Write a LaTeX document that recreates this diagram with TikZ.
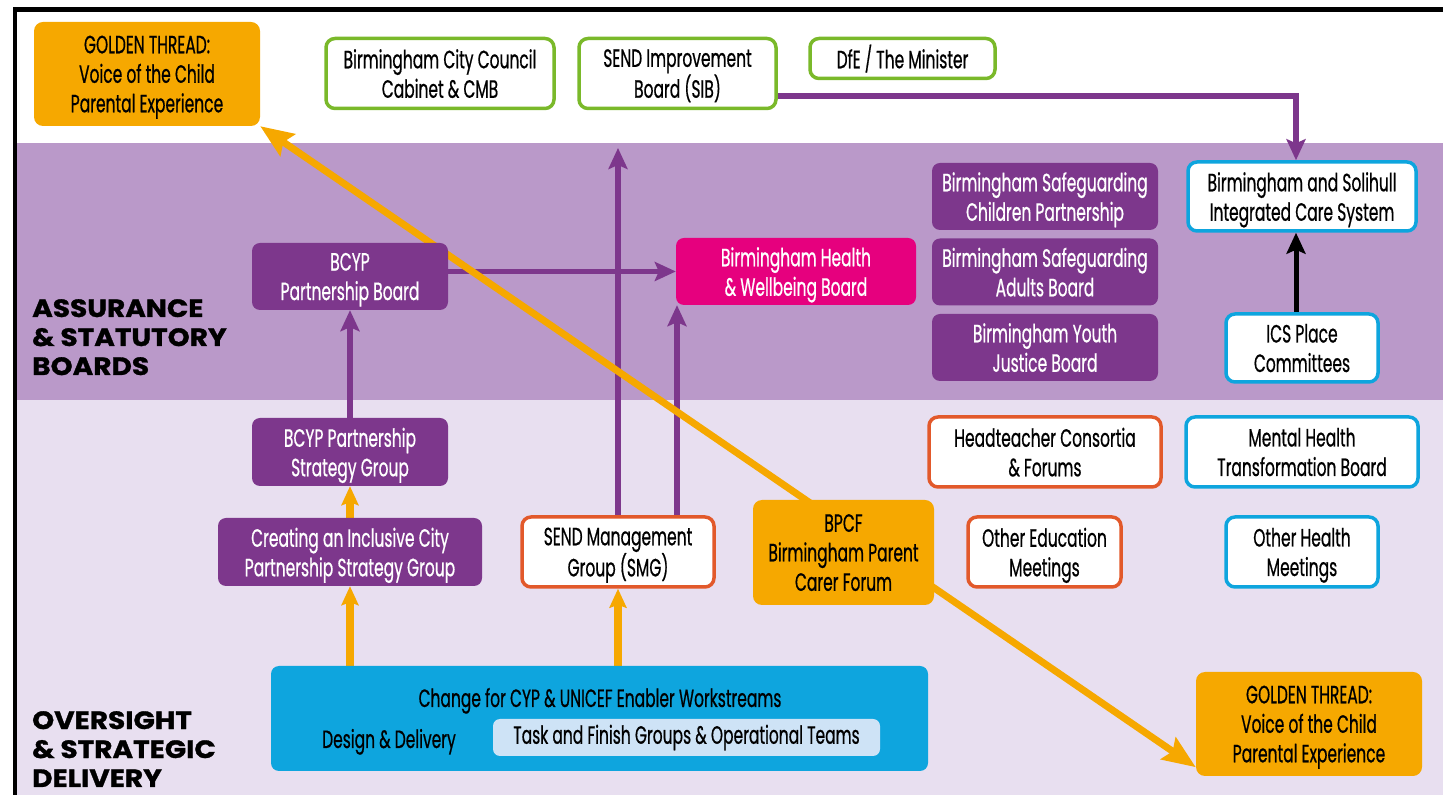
\documentclass[tikz,border=0pt]{standalone}
\usepackage{fontspec}
\setmainfont{Poppins}[FakeStretch=0.62,FakeBold=0.6]
\newfontfamily\headfont{Poppins}[FakeStretch=1.12,BoldFeatures={FakeBold=1.2}]
\usepackage{tikz}
\usetikzlibrary{arrows.meta,positioning,backgrounds}
\definecolor{plum}{RGB}{125,55,140}
\definecolor{lilac}{RGB}{186,153,201}
\definecolor{mist}{RGB}{232,223,240}
\definecolor{gold}{RGB}{246,168,0}
\definecolor{leaf}{RGB}{122,185,42}
\definecolor{sky}{RGB}{14,165,222}
\definecolor{rust}{RGB}{226,89,43}
\definecolor{berry}{RGB}{230,0,126}
\definecolor{ice}{RGB}{206,227,246}
\pgfdeclarelayer{bands}
\pgfsetlayers{bands,background,main}
\newcommand\boxfont{\fontsize{25}{29.5}\selectfont}
\tikzset{
  >={Stealth[length=21pt,width=19pt,inset=4pt]},
  lifted/.style={align=center,inner sep=0pt,font=\boxfont,text depth=-5pt},
  board/.style={lifted,fill=#1,text=white,rounded corners=8pt},
  board/.default=plum,
  panel/.style={lifted,draw=#1,line width=3.5pt,fill=white,rounded corners=9pt},
  panel/.default=leaf,
  thread/.style={lifted,fill=gold,rounded corners=9pt},
  link/.style={->,line width=5.5pt,draw=#1},
  link/.default=plum,
  feed/.style={-{Stealth[length=19pt,width=17pt,inset=3pt]},line width=8.5pt,draw=gold},
  golden/.style={{Stealth[length=33pt,width=26pt,inset=5pt]}-{Stealth[length=33pt,width=26pt,inset=5pt]},line width=7pt,draw=gold},
  sechead/.style={anchor=north west,align=left,inner sep=0pt,font=\headfont\fontsize{25}{29}\selectfont\bfseries},
}

\begin{document}
\begin{tikzpicture}[x=1pt,y=1pt]
  \useasboundingbox (0,0) rectangle (1443,795);
  % bands and frame
  \begin{pgfonlayer}{bands}
    \fill[lilac] (17,395) rectangle (1443,652);
    \fill[mist] (17,0) rectangle (1443,395);
    \fill[black] (12.5,0) rectangle (17,788);
    \fill[black] (12.5,783) rectangle (1443,788);
  \end{pgfonlayer}

  \node[sechead] (assure) at (32,496) {ASSURANCE\\\& STATUTORY\\BOARDS};
  \node[sechead] (oversee) at (32,84) {OVERSIGHT\\\& STRATEGIC\\DELIVERY};

  % top row
  \node[thread,minimum width=226pt,minimum height=104pt] (gtl) at (147,721) {GOLDEN THREAD:\\Voice of the Child\\Parental Experience};
  \node[panel,minimum width=228pt,minimum height=70pt] (bcc) at (440,721.5) {Birmingham City Council\\Cabinet \& CMB};
  \node[panel,minimum width=197pt,minimum height=70pt] (sib) at (677.5,721.5) {SEND Improvement\\Board (SIB)};
  \node[panel,minimum width=185pt,minimum height=40pt,text depth=4pt] (dfe) at (902.5,736.5) {DfE / The Minister};

  % statutory boards
  \foreach \y/\n/\t in {598.5/bscp/{Birmingham Safeguarding\\Children Partnership},
      523/bsab/{Birmingham Safeguarding\\Adults Board},
      447.5/byjb/{Birmingham Youth\\Justice Board}}
    \node[board,minimum width=226pt,minimum height=67pt] (\n) at (1045,\y) {\t};
  \node[panel=sky,minimum width=228pt,minimum height=69pt] (ics) at (1302,598.5) {Birmingham and Solihull\\Integrated Care System};
  \node[panel=sky,minimum width=152pt,minimum height=68pt] (place) at (1302,447) {ICS Place\\Committees};
  \node[board,minimum width=196pt,minimum height=67pt] (bcyp) at (350,518.5) {BCYP\\Partnership Board};
  \node[board=berry,minimum width=240pt,minimum height=67pt] (hwb) at (796,523.5) {Birmingham Health\\\& Wellbeing Board};

  % oversight
  \node[board,minimum width=196pt,minimum height=68pt] (bsg) at (350,343) {BCYP Partnership\\Strategy Group};
  \node[board,minimum width=264pt,minimum height=68pt] (cic) at (350,243) {Creating an Inclusive City\\Partnership Strategy Group};
  \node[panel=rust,minimum width=192pt,minimum height=70pt] (smg) at (618,243) {SEND Management\\Group (SMG)};
  \node[thread,minimum width=181pt,minimum height=105pt] (bpcf) at (843.5,242.5) {BPCF\\Birmingham Parent\\Carer Forum};
  \node[panel=rust,minimum width=232pt,minimum height=70pt] (htc) at (1045,343) {Headteacher Consortia\\\& Forums};
  \node[panel=rust,minimum width=153pt,minimum height=70pt] (oed) at (1044.5,243) {Other Education\\Meetings};
  \node[panel=sky,minimum width=232pt,minimum height=70pt] (mht) at (1302,343) {Mental Health\\Transformation Board};
  \node[panel=sky,minimum width=152pt,minimum height=70pt] (ohm) at (1302,243) {Other Health\\Meetings};

  % delivery
  \node[fill=sky,rounded corners=8pt,minimum width=657pt,minimum height=105pt] (cyp) at (599.5,76.5) {};
  \node[font=\boxfont,anchor=base] (cyptitle) at (600,88) {Change for CYP \& UNICEF Enabler Workstreams};
  \node[font=\boxfont,anchor=base] (cypdd) at (389,47) {Design \& Delivery};
  \node[fill=ice,rounded corners=7pt,minimum width=387pt,minimum height=37pt,inner sep=0pt,font=\boxfont] (tfg) at (686.5,57.5) {Task and Finish Groups \& Operational Teams};
  \node[thread,minimum width=226pt,minimum height=104pt] (gtr) at (1309,71) {GOLDEN THREAD:\\Voice of the Child\\Parental Experience};

  % connectors
  \begin{scope}[on background layer]
    \coordinate (reach) at (618,647);
    \draw[link] ([yshift=-22.5pt]sib.east) -| ([xshift=-6pt]ics.north);
    \draw[link] (bcyp.east |- hwb.west) -- (hwb.west);
    \draw[link] (smg.north) -- (reach);
    \draw[link] ([xshift=59pt]smg.north) -- ([xshift=59pt]smg.north |- hwb.south);
    \draw[link] (bsg) -- (bcyp);
    \draw[link=black,line width=5pt] ([xshift=-6pt]place.north) -- ([xshift=-6pt]ics.south);
    \draw[feed] (cic) -- (bsg);
    \draw[feed] (cic.south |- cyp.north) -- (cic.south);
    \draw[feed] (smg.south |- cyp.north) -- (smg.south);
    \draw[golden] ([yshift=9pt]gtr.south west) -- (gtl.south east);
  \end{scope}
\end{tikzpicture}
\end{document}
